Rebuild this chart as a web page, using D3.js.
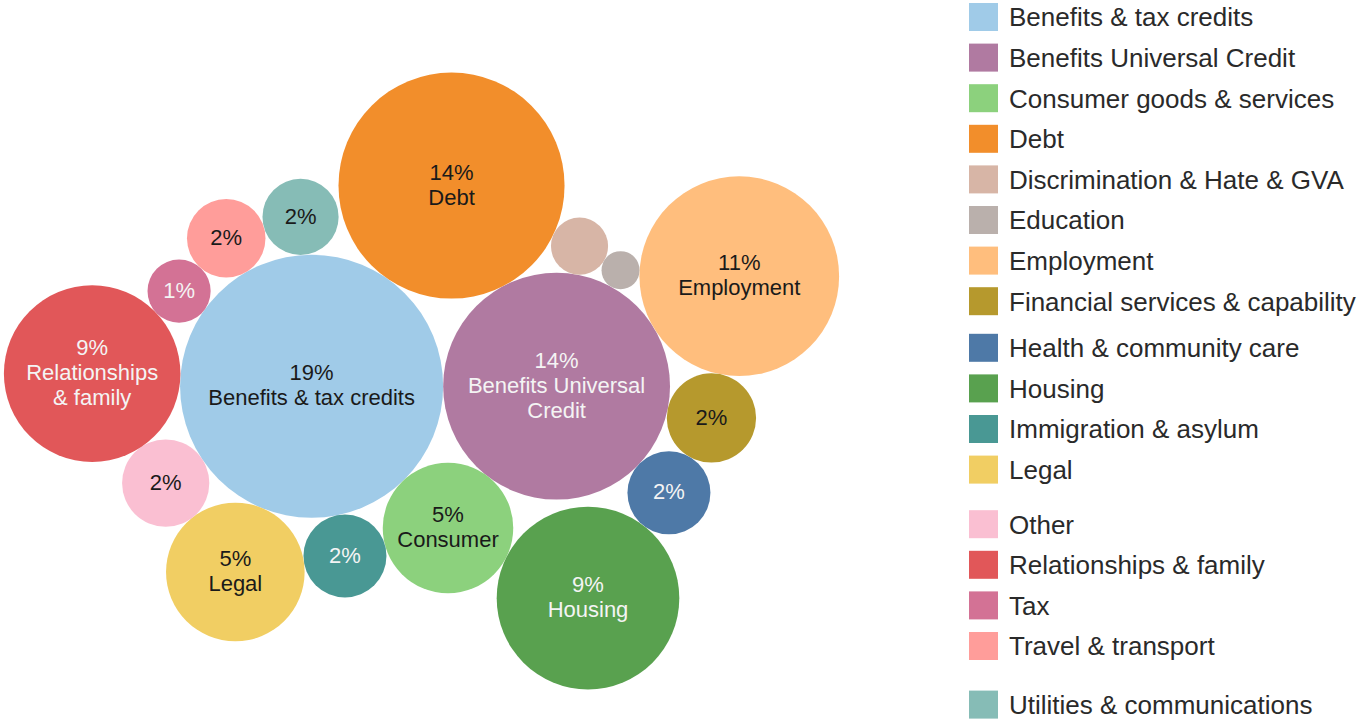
<!DOCTYPE html>
<html>
<head>
<meta charset="utf-8">
<script src="https://cdn.jsdelivr.net/npm/d3@7"></script>
<style>
  body { margin: 0; background: #fff; }
  svg text { font-family: "Liberation Sans", Arial, sans-serif; }
</style>
</head>
<body>
<svg id="chart" width="1367" height="720"></svg>
<script>
// categories, in data order (same as the legend)
var categories = ["Benefits & tax credits", "Benefits Universal Credit", "Consumer goods & services", "Debt",
  "Discrimination & Hate & GVA", "Education", "Employment", "Financial services & capability",
  "Health & community care", "Housing", "Immigration & asylum", "Legal", "Other",
  "Relationships & family", "Tax", "Travel & transport", "Utilities & communications"];

// share of all issues, percent
var shares = [19.1, 14.2, 4.7, 14.1, 0.9, 0.4, 11.0, 2.2, 1.9, 9.2, 1.9, 5.3, 2.1, 8.6, 1.1, 1.7, 1.6];

// name lines shown under the percentage (null = bubble not labelled)
var bubbleNames = [["Benefits & tax credits"], ["Benefits Universal", "Credit"], ["Consumer"], ["Debt"],
  null, null, ["Employment"], [], [], ["Housing"], [], ["Legal"], [], ["Relationships", "& family"], [], [], []];

var colors = ["#a0cbe8", "#b07aa1", "#8cd17d", "#f28e2b", "#d7b5a6", "#bab0ac", "#ffbe7d", "#b6992d",
  "#4e79a7", "#59a14f", "#499894", "#f1ce63", "#fabfd2", "#e15759", "#d37295", "#ff9d9a", "#86bcb6"];

var svg = d3.select("#chart");
var color = d3.scaleOrdinal().domain(categories).range(colors);
var radius = d3.scaleSqrt().domain([0, 100]).range([0, 301]);

var nodes = categories.map(function(name, i) {
  return {name: name, value: shares[i], names: bubbleNames[i], r: radius(shares[i])};
});

// c tangent to a and b, on the outer side of the chain edge a -> b
function place(a, b, c) {
  var dx = b.x - a.x, dy = b.y - a.y, d = Math.sqrt(dx * dx + dy * dy);
  var ra = a.r + c.r, rb = b.r + c.r;
  var along = (ra * ra - rb * rb + d * d) / (2 * d);
  var h = Math.sqrt(Math.max(0, ra * ra - along * along));
  var ux = dx / d, uy = dy / d;
  c.x = a.x + along * ux + h * uy;
  c.y = a.y + along * uy - h * ux;
}

function intersects(a, b) {
  var dr = a.r + b.r - 1e-6, dx = b.x - a.x, dy = b.y - a.y;
  return dr > 0 && dr * dr > dx * dx + dy * dy;
}

// front-chain packing: each new circle goes next to the chain circle nearest the origin
function packSpiral(circles) {
  var A = circles[0], B = circles[1];
  A.x = 0; A.y = 0;
  B.x = A.r + B.r; B.y = 0;
  var ox = A.r, oy = 0;
  place(B, A, circles[2]);

  var a = {_: A}, b = {_: B}, c = {_: circles[2]};
  a.next = b; b.previous = a;
  b.next = c; c.previous = b;
  c.next = a; a.previous = c;

  function nearest(start) {
    var best = start, bd = Infinity, nd = start;
    do {
      var dx = nd._.x - ox, dy = nd._.y - oy, dd = dx * dx + dy * dy;
      if (dd < bd) { bd = dd; best = nd; }
      nd = nd.next;
    } while (nd !== start);
    return best;
  }

  b = nearest(a); a = b.previous;

  pack: for (var i = 3; i < circles.length; ++i) {
    var cc = circles[i];
    place(a._, b._, cc);
    var j = b.next, k = a.previous, sj = b._.r, sk = a._.r;
    do {
      if (sj <= sk) {
        if (intersects(j._, cc)) { b = j; a.next = b; b.previous = a; --i; continue pack; }
        sj += j._.r; j = j.next;
      } else {
        if (intersects(k._, cc)) { a = k; a.next = b; b.previous = a; --i; continue pack; }
        sk += k._.r; k = k.previous;
      }
    } while (j !== k.next);
    c = {_: cc};
    c.previous = a; c.next = b; a.next = c; b.previous = c;
    b = nearest(c); a = b.previous;
  }
}

packSpiral(nodes);

// centre the packed group in the plot area
var x0 = d3.min(nodes, function(d) { return d.x - d.r; }),
    x1 = d3.max(nodes, function(d) { return d.x + d.r; }),
    y0 = d3.min(nodes, function(d) { return d.y - d.r; }),
    y1 = d3.max(nodes, function(d) { return d.y + d.r; });
var cx = 421.5, cy = 381;

var g = svg.append("g")
  .attr("transform", "translate(" + (cx - (x0 + x1) / 2) + "," + (cy - (y0 + y1) / 2) + ")");

var bubble = g.selectAll(".bubble")
  .data(nodes)
  .enter().append("g")
  .attr("class", "bubble")
  .attr("transform", function(d) { return "translate(" + d.x + "," + d.y + ")"; });

bubble.append("circle")
  .attr("r", function(d) { return d.r; })
  .style("fill", function(d) { return color(d.name); });

var lineH = 25;
bubble.filter(function(d) { return d.names !== null; })
  .append("text")
  .attr("text-anchor", "middle")
  .style("font-size", "22px")
  .style("fill", function(d) { return d3.lab(color(d.name)).l < 62 ? "#f4f4f4" : "#1a1a1a"; })
  .each(function(d) {
    var lines = [Math.round(d.value) + "%"].concat(d.names);
    var t = d3.select(this);
    lines.forEach(function(line, i) {
      t.append("tspan")
        .attr("x", 0)
        .attr("y", (i - (lines.length - 1) / 2) * lineH)
        .attr("dy", "0.3em")
        .text(line);
    });
  });

// legend
var legendGaps = {8: 6, 12: 14, 16: 18};
var legendY = [];
var extra = 0;
categories.forEach(function(c, i) {
  if (legendGaps[i]) extra += legendGaps[i];
  legendY.push(17 + i * 40.6 + extra);
});

var legend = svg.append("g").attr("class", "legend");
var item = legend.selectAll(".item")
  .data(categories)
  .enter().append("g")
  .attr("class", "item")
  .attr("transform", function(d, i) { return "translate(969," + legendY[i] + ")"; });

item.append("rect")
  .attr("x", 0)
  .attr("y", -14)
  .attr("width", 29)
  .attr("height", 28)
  .style("fill", function(d) { return color(d); });

item.append("text")
  .attr("x", 40)
  .attr("dy", "0.36em")
  .style("font-size", "26px")
  .style("fill", "#2a2a2a")
  .text(function(d) { return d; });
</script>
</body>
</html>
